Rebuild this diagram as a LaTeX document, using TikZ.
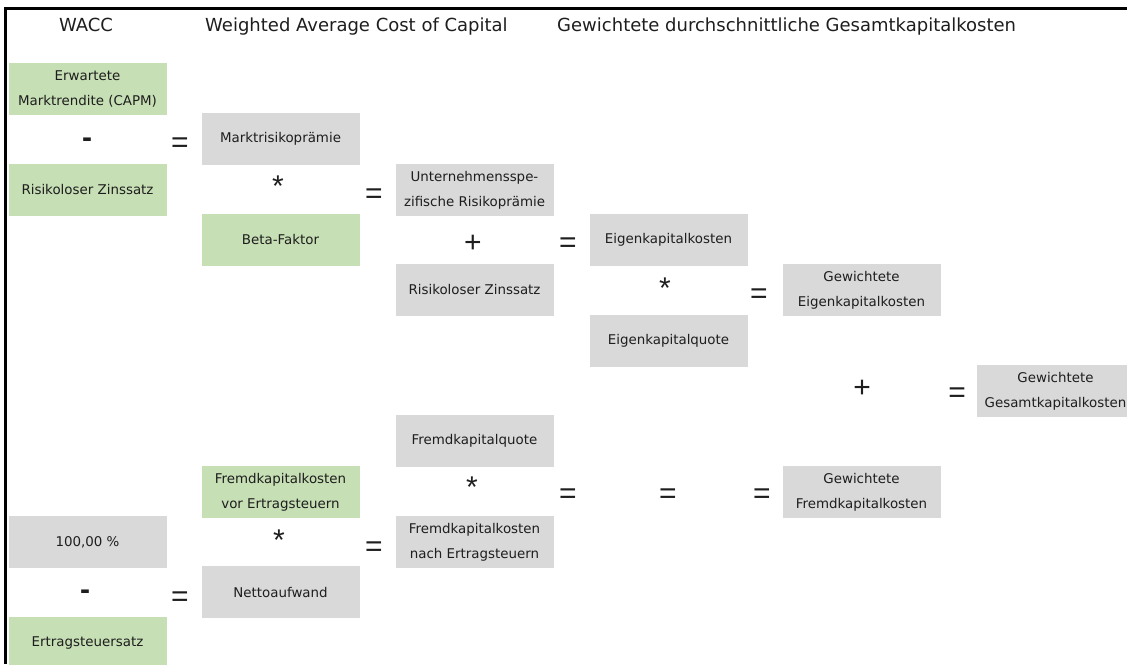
\documentclass[tikz,border=0pt]{standalone}
\usepackage{fontspec}
\setmainfont{DejaVu Sans}
\newfontfamily\signfont{Liberation Sans}
\definecolor{boxgreen}{HTML}{C6DFB4}
\definecolor{boxgray}{HTML}{D9D9D9}
\definecolor{txt}{HTML}{1E1E1E}
\tikzset{
  cell/.style={minimum width=158pt,minimum height=52pt,inner sep=0pt,align=center,
    text=txt,font=\fontsize{13.4}{25}\selectfont},
  gcell/.style={cell,fill=boxgreen},
  ycell/.style={cell,fill=boxgray},
  sign/.style={inner sep=0pt,text=txt,font=\signfont\fontsize{30}{30}\selectfont},
  hdr/.style={inner sep=0pt,text=txt,font=\fontsize{18}{20}\selectfont,anchor=base west},
}
\begin{document}
\begin{tikzpicture}[x=1pt,y=-1pt]
\useasboundingbox (0,0) rectangle (1127,664);
\clip (0,0) rectangle (1127,664);
% frame lines
\draw[line width=3pt] (5.5,664) -- (5.5,8.5) -- (1127,8.5);
% headers
\node[hdr,anchor=base] (h1) at (86,31) {WACC};
\node[hdr] (h2) at (205,31) {Weighted Average Cost of Capital};
\node[hdr] (h3) at (557,31) {Gewichtete durchschnittliche Gesamtkapitalkosten};
% column 1
\node[gcell] (erw) at (87.5,89) {Erwartete\\Marktrendite (CAPM)};
\node[gcell] (rz1) at (87.5,190) {Risikoloser Zinssatz};
\node[ycell] (hun) at (87.5,542) {100,00 \%};
\node[gcell] (ests) at (87.5,643) {Ertragsteuersatz};
% column 2
\node[ycell] (mrp) at (280.5,139) {Marktrisikoprämie};
\node[gcell] (beta) at (280.5,240) {Beta-Faktor};
\node[gcell] (fkv) at (280.5,492) {Fremdkapitalkosten\\vor Ertragsteuern};
\node[ycell] (netto) at (280.5,592) {Nettoaufwand};
% column 3
\node[ycell] (urp) at (474.5,190) {Unternehmensspe-\\zifische Risikoprämie};
\node[ycell] (rz2) at (474.5,290) {Risikoloser Zinssatz};
\node[ycell] (fkq) at (474.5,441) {Fremdkapitalquote};
\node[ycell] (fkn) at (474.5,542) {Fremdkapitalkosten\\nach Ertragsteuern};
% column 4
\node[ycell] (ekk) at (668.5,240) {Eigenkapitalkosten};
\node[ycell] (ekq) at (668.5,340.5) {Eigenkapitalquote};
% column 5
\node[ycell] (gek) at (861.5,290) {Gewichtete\\Eigenkapitalkosten};
\node[ycell] (gfk) at (861.5,492) {Gewichtete\\Fremdkapitalkosten};
% column 6
\node[ycell] (ggk) at (1055.5,391) {Gewichtete\\Gesamtkapitalkosten};
% signs
\node[sign] (s1) at (87,143) {\textbf{-}};
\node[sign] (s2) at (180,145) {=};
\node[sign] (s3) at (278,186) {*};
\node[sign] (s4) at (374,196) {=};
\node[sign] (s5) at (473,244) {+};
\node[sign] (s6) at (568,245) {=};
\node[sign] (s7) at (665,288) {*};
\node[sign] (s8) at (759,296) {=};
\node[sign] (s9) at (862,389) {+};
\node[sign] (s10) at (957,395) {=};
\node[sign] (s11) at (472,487) {*};
\node[sign] (s12) at (568,496) {=};
\node[sign] (s13) at (668,496) {=};
\node[sign] (s14) at (762,496) {=};
\node[sign] (s15) at (279,540) {*};
\node[sign] (s16) at (374,549) {=};
\node[sign] (s17) at (85,595) {\textbf{-}};
\node[sign] (s18) at (180,599) {=};
\end{tikzpicture}
\end{document}
